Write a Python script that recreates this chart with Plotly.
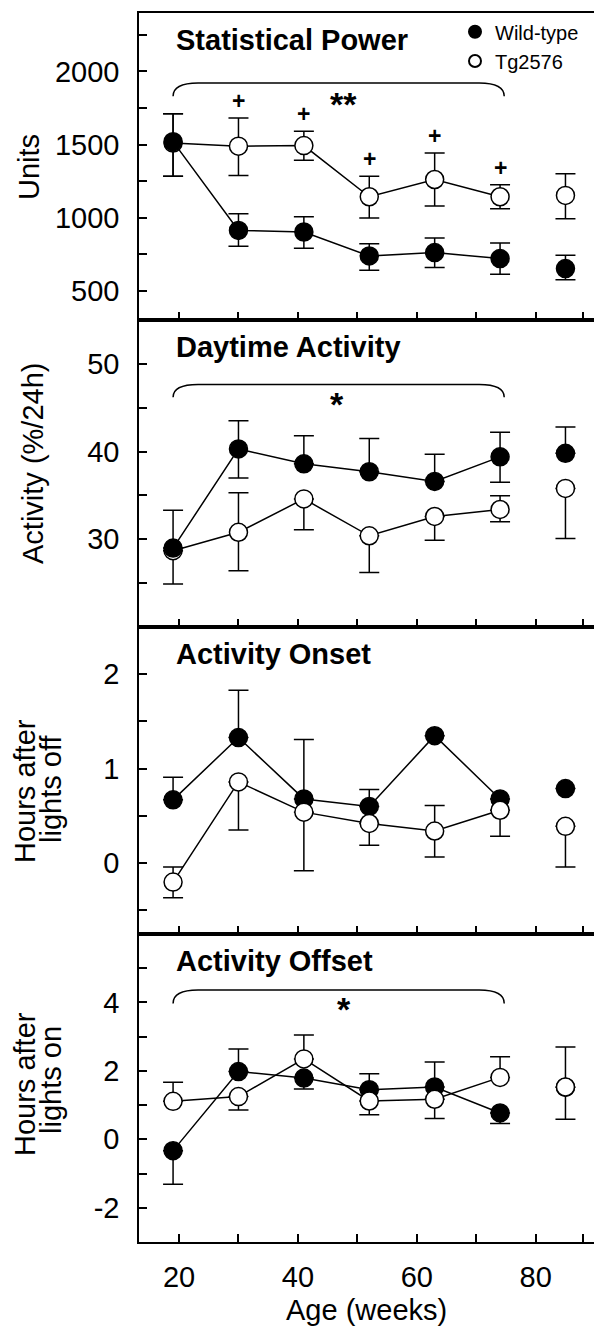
import plotly.graph_objects as go

# ---------------- data ----------------
ages = [19, 30, 41, 52, 63, 74, 85]

power_wt = [1520, 913, 902, 738, 761, 720, 652]
power_wt_up = [191, 114, 105, 84, 100, 107, 91]
power_wt_dn = [236, 109, 111, 97, 102, 107, 77]
power_tg = [1510, 1489, 1493, 1143, 1261, 1143, 1152]
power_tg_up = [201, 193, 98, 141, 182, 82, 148]
power_tg_dn = [226, 200, 100, 145, 182, 82, 159]

day_wt = [29.0, 40.3, 38.6, 37.7, 36.6, 39.4, 39.8]
day_wt_up = [4.3, 3.2, 3.2, 3.8, 3.1, 2.8, 3.0]
day_wt_dn = [0, 3.3, 0, 0, 0, 2.9, 0]
day_tg = [28.7, 30.8, 34.6, 30.4, 32.6, 33.4, 35.8]
day_tg_up = [0, 4.5, 0, 0, 0, 1.55, 0]
day_tg_dn = [3.8, 4.4, 3.5, 4.2, 2.7, 1.4, 5.7]

onset_wt = [0.67, 1.33, 0.68, 0.60, 1.35, 0.68, 0.79]
onset_wt_up = [0.24, 0.50, 0.63, 0.18, 0, 0, 0]
onset_wt_dn = [0, 0, 0, 0, 0, 0, 0]
onset_tg = [-0.20, 0.86, 0.54, 0.42, 0.34, 0.56, 0.39]
onset_tg_up = [0.16, 0, 0, 0, 0.27, 0, 0]
onset_tg_dn = [0.165, 0.51, 0.62, 0.23, 0.275, 0.275, 0.43]

offset_wt = [-0.33, 1.98, 1.79, 1.45, 1.53, 0.77, 1.52]
offset_wt_up = [0, 0.66, 0, 0.47, 0.73, 0, 0]
offset_wt_dn = [0.98, 0, 0.32, 0, 0, 0.31, 0]
offset_tg = [1.11, 1.25, 2.35, 1.12, 1.17, 1.81, 1.53]
offset_tg_up = [0.56, 0, 0.70, 0, 0, 0.60, 1.17]
offset_tg_dn = [0, 0.39, 0, 0.40, 0.56, 0, 0.94]

series_names = ["Wild-type", "Tg2576"]
panel_titles = ["Statistical Power", "Daytime Activity", "Activity Onset", "Activity Offset"]
x_tickvals = [20, 30, 40, 50, 60, 70, 80, 88]
x_ticktext = ["20", "", "40", "", "60", "", "80", ""]
x_title = "Age (weeks)"

y_ranges = [[300, 2400], [20, 55], [-0.75, 2.5], [-3, 6]]
y_tickvals = [
    [500, 750, 1000, 1250, 1500, 1750, 2000, 2250],
    [25, 30, 35, 40, 45, 50],
    [-0.5, 0, 0.5, 1, 1.5, 2],
    [-2, -1, 0, 1, 2, 3, 4, 5],
]
y_ticktext = [
    ["500", "", "1000", "", "1500", "", "2000", ""],
    ["", "30", "", "40", "", "50"],
    ["", "0", "", "1", "", "2"],
    ["-2", "", "0", "", "2", "", "4", ""],
]

panels = [
    dict(wt=power_wt, wtu=power_wt_up, wtd=power_wt_dn, tg=power_tg, tgu=power_tg_up, tgd=power_tg_dn, wt_on_top=True),
    dict(wt=day_wt, wtu=day_wt_up, wtd=day_wt_dn, tg=day_tg, tgu=day_tg_up, tgd=day_tg_dn, wt_on_top=True),
    dict(wt=onset_wt, wtu=onset_wt_up, wtd=onset_wt_dn, tg=onset_tg, tgu=onset_tg_up, tgd=onset_tg_dn, wt_on_top=False),
    dict(wt=offset_wt, wtu=offset_wt_up, wtd=offset_wt_dn, tg=offset_tg, tgu=offset_tg_up, tgd=offset_tg_dn, wt_on_top=False),
]

# significance brackets: (panel index, label, y top, y end, label x, label y)
brackets = [
    (0, "**", 1921, 1830, 47.6, 1834),
    (1, "*", 47.65, 46.2, 46.6, 46.33),
    (3, "*", 4.36, 3.97, 47.8, 4.04),
]
plus_idx = [1, 2, 3, 4, 5]  # "+" above Tg2576 in Statistical Power

# ---------------- layout geometry ----------------
W, H = 594, 1328
FONT = "Arial, Liberation Sans, sans-serif"
FS = 29
panel_px = [(13, 320), (320, 627), (627, 934), (934, 1242)]
x_left_px = 139.3
x_range = [13.32, 89.8]

fig = go.Figure()

def add_series(k, name, yv, up, dn, filled, legend_key):
    xa = "x" if k == 0 else f"x{k+1}"
    ya = "y" if k == 0 else f"y{k+1}"
    marker = dict(size=18, color="black" if filled else "white",
                  line=dict(color="black", width=1.5), symbol="circle")
    err_main = dict(type="data", symmetric=False, array=up[:6], arrayminus=dn[:6],
                    color="black", thickness=1.5, width=10)
    err_last = dict(type="data", symmetric=False, array=up[6:], arrayminus=dn[6:],
                    color="black", thickness=1.5, width=10)
    fig.add_trace(go.Scatter(x=ages[:6], y=yv[:6], mode="lines+markers", marker=marker,
                             line=dict(color="black", width=1.5), error_y=err_main,
                             xaxis=xa, yaxis=ya, showlegend=False, name=name))
    fig.add_trace(go.Scatter(x=ages[6:], y=yv[6:], mode="markers", marker=marker,
                             error_y=err_last, xaxis=xa, yaxis=ya, name=name,
                             showlegend=(k == 0), legend=legend_key))

for k, p in enumerate(panels):
    if p["wt_on_top"]:
        add_series(k, series_names[1], p["tg"], p["tgu"], p["tgd"], False, "legend2")
        add_series(k, series_names[0], p["wt"], p["wtu"], p["wtd"], True, "legend")
    else:
        add_series(k, series_names[0], p["wt"], p["wtu"], p["wtd"], True, "legend")
        add_series(k, series_names[1], p["tg"], p["tgu"], p["tgd"], False, "legend2")

LEG_X = 455 / W
layout = dict(
    width=W, height=H, margin=dict(l=0, r=0, t=0, b=0),
    paper_bgcolor="white", plot_bgcolor="white",
    font=dict(family=FONT, size=FS, color="black"),
    legend=dict(x=LEG_X, y=1 - 31.7 / H, xanchor="left", yanchor="middle",
                font=dict(size=20, family=FONT), bgcolor="rgba(0,0,0,0)", itemsizing="constant"),
    legend2=dict(x=LEG_X, y=1 - 61 / H, xanchor="left", yanchor="middle",
                 font=dict(size=20, family=FONT), bgcolor="rgba(0,0,0,0)", itemsizing="constant"),
)

annotations = []
shapes = []
for k in range(4):
    top, bot = panel_px[k]
    dom = [1 - bot / H, 1 - top / H]
    xk = "xaxis" if k == 0 else f"xaxis{k+1}"
    yk = "yaxis" if k == 0 else f"yaxis{k+1}"
    ya = "y" if k == 0 else f"y{k+1}"
    xa = "x" if k == 0 else f"x{k+1}"
    layout[xk] = dict(domain=[x_left_px / W, 1], range=x_range, anchor=ya,
                      tickvals=x_tickvals, ticktext=x_ticktext, ticks="inside", ticklen=8,
                      tickwidth=2, tickcolor="black", showline=True, linecolor="black",
                      linewidth=2, mirror=True, showgrid=False, zeroline=False,
                      showticklabels=(k == 3), ticklabelstandoff=8, automargin=False,
                      tickfont=dict(size=FS, family=FONT))
    if k > 0:
        layout[xk]["matches"] = "x"
    layout[yk] = dict(domain=dom, range=y_ranges[k], anchor=xa,
                      tickvals=y_tickvals[k], ticktext=y_ticktext[k], ticks="inside",
                      ticklen=8, tickwidth=2, tickcolor="black", showline=True,
                      linecolor="black", linewidth=2, showgrid=False, zeroline=False,
                      ticklabelstandoff=12, automargin=False,
                      tickfont=dict(size=FS, family=FONT))
    # right-hand ticks (border lies just outside the picture)
    rk = f"yaxis{k+5}"
    layout[rk] = dict(overlaying=ya, side="right", anchor=xa, range=y_ranges[k],
                      tickvals=y_tickvals[k], ticks="inside", ticklen=6, tickwidth=2,
                      tickcolor="black", showline=False, showgrid=False, zeroline=False,
                      showticklabels=False, automargin=False)
    annotations.append(dict(text="<b>" + panel_titles[k] + "</b>", xref=f"{xa} domain",
                            yref=f"{ya} domain", x=(174 - x_left_px) / (W - x_left_px),
                            y=1, xanchor="left", yanchor="top", yshift=-9, showarrow=False,
                            font=dict(size=FS, family=FONT, color="black")))

# y-axis titles
ytitles = [
    ("Units", 29.5, 167.5),
    ("Activity (%/24h)", 33, 464),
    ("Hours after", 24.5, 791.5),
    ("lights off", 51, 789),
    ("Hours after", 24.5, 1084.5),
    ("lights on", 51, 1080),
]
for txt, xp, yp in ytitles:
    annotations.append(dict(text=txt, xref="paper", yref="paper", x=xp / W, y=1 - yp / H,
                            xanchor="center", yanchor="middle", textangle=-90,
                            showarrow=False, font=dict(size=FS, family=FONT, color="black")))

annotations.append(dict(text=x_title, xref="x4 domain", yref="paper", x=0.5, y=1 - 1310 / H,
                        xanchor="center", yanchor="middle", showarrow=False,
                        font=dict(size=FS, family=FONT, color="black")))

# brackets and stars
for k, label, ytop, yend, lx, ly in brackets:
    xa = "x" if k == 0 else f"x{k+1}"
    ya = "y" if k == 0 else f"y{k+1}"
    x0 = ages[0]
    x1 = ages[5] + 0.7
    dx = 4.2
    path = (f"M {x0},{yend} Q {x0},{ytop} {x0 + dx},{ytop} L {x1 - dx},{ytop} "
            f"Q {x1},{ytop} {x1},{yend}")
    shapes.append(dict(type="path", path=path, xref=xa, yref=ya,
                       line=dict(color="black", width=1.5)))
    annotations.append(dict(text="<b>" + label + "</b>", xref=xa, yref=ya, x=lx, y=ly,
                            xanchor="center", yanchor="middle", yshift=-8, showarrow=False,
                            font=dict(size=34, family=FONT, color="black")))

for i in plus_idx:
    annotations.append(dict(text="<b>+</b>", xref="x", yref="y", x=ages[i],
                            y=power_tg[i] + power_tg_up[i], yshift=17,
                            xanchor="center", yanchor="middle", showarrow=False,
                            font=dict(size=23, family=FONT, color="black")))

layout["annotations"] = annotations
layout["shapes"] = shapes
fig.update_layout(**layout)
fig.write_html("out.html", config={"displayModeBar": False, "staticPlot": True},
               post_script="document.body.style.margin='0';document.body.style.overflow='hidden';")
